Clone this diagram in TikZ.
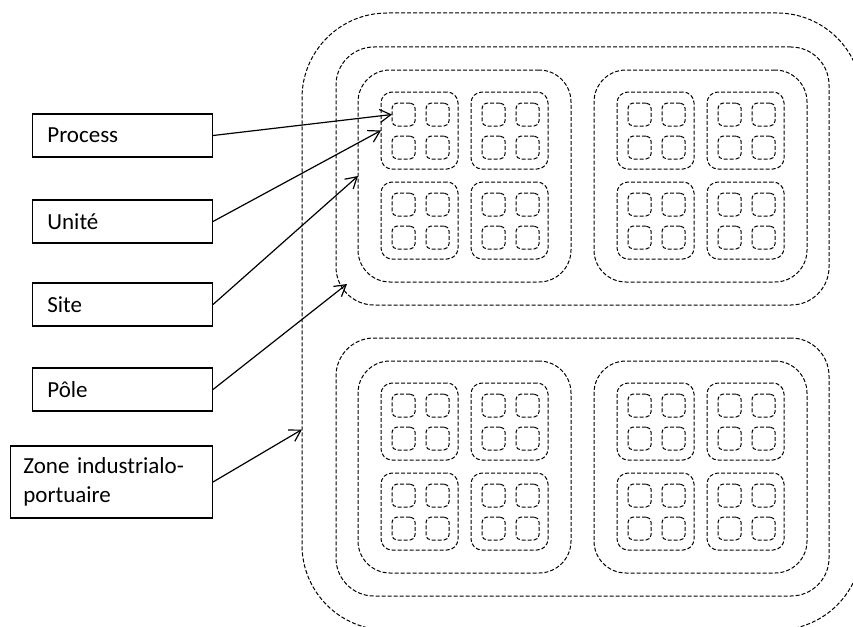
\documentclass[tikz,border=0pt]{standalone}
\usepackage{fontspec}
\setmainfont{Carlito}
\usetikzlibrary{arrows.meta,calc}

\tikzset{
  level/.style={draw, dash pattern=on 4pt off 2pt, line width=1pt,
    anchor=north west, inner sep=0pt, outer sep=0pt},
  labelbox/.style={draw, line width=1.2pt, anchor=east, minimum width=180pt,
    minimum height=43pt, inner xsep=15pt, text width=150pt, align=left,
    font=\fontsize{23}{29}\selectfont},
  pointer/.style={line width=1.2pt, -{Straight Barb[length=11pt,width=13pt]}}
}

\begin{document}
\begin{tikzpicture}[x=1pt, y=-1pt]
    % Frame
    \useasboundingbox (0,0) rectangle (853,626);
    \clip (0,0) rectangle (853,626);

    % Zone, poles, sites, units, processes
    \node[level, rounded corners=85pt, minimum width=560pt, minimum height=617pt] (zone) at (302,13) {};
    \foreach \i in {0,1} {
        \node[level, rounded corners=38pt, minimum width=493pt, minimum height=258pt] (pole\i) at (336,47+291*\i) {};
        \foreach \j in {0,1} {
            \node[level, rounded corners=32pt, minimum width=213pt, minimum height=212pt] (site\i\j) at (358+236*\j,70+291*\i) {};
            \foreach \k in {0,1} \foreach \l in {0,1} {
                \node[level, rounded corners=11pt, minimum size=77pt] (unit\i\j\k\l) at (381+236*\j+90*\k,92+291*\i+90*\l) {};
                \foreach \m in {0,1} \foreach \n in {0,1}
                    \node[level, rounded corners=5pt, minimum size=23pt] (proc\i\j\k\l\m\n) at (392+236*\j+90*\k+34*\m,103+291*\i+90*\l+33*\n) {};
            }
        }
    }

    % Labels
    \node[labelbox] (process) at (213,135.5) {Process};
    \node[labelbox] (unite) at (213,221.5) {Unité};
    \node[labelbox] (site) at (213,304.5) {Site};
    \node[labelbox] (pole) at (213,389.5) {Pôle};
    \node[labelbox, minimum width=202pt, minimum height=72pt, inner xsep=13pt, text width=176pt] (zonelabel) at (213,482) {Zone industrialo-\\portuaire};

    % Pointers
    \coordinate (poletip) at ($(pole0.south west)+(11,-21)$);
    \coordinate (zonetip) at ($(zone.west)+(0,108)$);
    \draw[pointer] (process.east) -- (proc000000.west);
    \draw[pointer] (unite.east) -- (unit0000.west);
    \draw[pointer] (site.east) -- (site00.west);
    \draw[pointer] (pole.east) -- (poletip);
    \draw[pointer] (zonelabel.east) -- (zonetip);
\end{tikzpicture}
\end{document}
